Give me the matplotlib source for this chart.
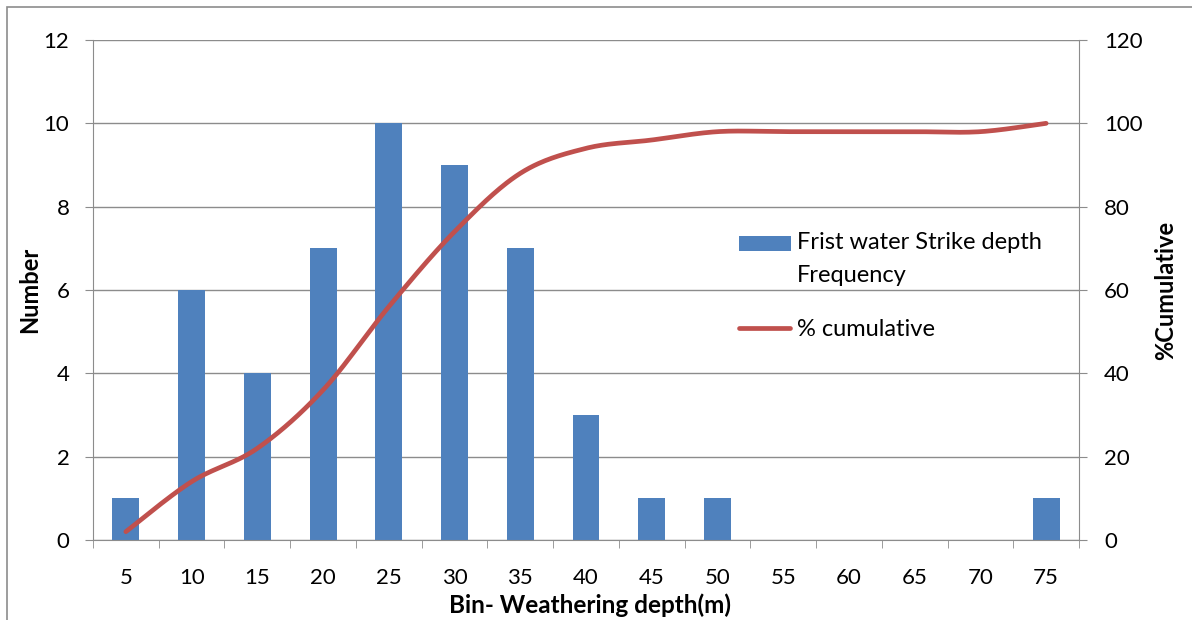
import numpy as np
import matplotlib
matplotlib.use("Agg")
import matplotlib.pyplot as plt
from matplotlib.patches import Rectangle
from matplotlib.lines import Line2D

bins = ["5", "10", "15", "20", "25", "30", "35", "40", "45", "50", "55", "60", "65", "70", "75"]
frequency = [1, 6, 4, 7, 10, 9, 7, 3, 1, 1, 0, 0, 0, 0, 1]
cumulative = [2, 14, 22, 36, 56, 74, 88, 94, 96, 98, 98, 98, 98, 98, 100]

BAR_C = "#4F81BD"
LINE_C = "#C0504D"
GRID_C = "#8C8C8C"
FONT = "Lato"

plt.rcParams["font.family"] = [FONT, "DejaVu Sans"]

W, H = 1192, 620
fig = plt.figure(figsize=(W/100, H/100), dpi=100)
ax = fig.add_axes([93/W, 80/H, (1079-93)/W, 500/H])
ax2 = ax.twinx()

x = np.arange(len(bins))
ax.bar(x, frequency, width=0.41, color=BAR_C, zorder=2)

# Excel-like smoothed line (Catmull-Rom Bezier)
def smooth(xs, ys, n=30):
    xs = np.asarray(xs, float); ys = np.asarray(ys, float)
    px = np.concatenate([[xs[0]], xs, [xs[-1]]])
    py = np.concatenate([[ys[0]], ys, [ys[-1]]])
    ox, oy = [], []
    t = np.linspace(0, 1, n)
    for i in range(1, len(px) - 2):
        p0 = np.array([px[i], py[i]]); p3 = np.array([px[i+1], py[i+1]])
        c1 = p0 + (np.array([px[i+1], py[i+1]]) - np.array([px[i-1], py[i-1]])) / 6
        c2 = p3 - (np.array([px[i+2], py[i+2]]) - np.array([px[i], py[i]])) / 6
        b = ((1-t)**3)[:, None]*p0 + (3*(1-t)**2*t)[:, None]*c1 + (3*(1-t)*t**2)[:, None]*c2 + (t**3)[:, None]*p3
        ox.extend(b[:, 0]); oy.extend(b[:, 1])
    return ox, oy

sx, sy = smooth(x, cumulative)
ax2.plot(sx, sy, color=LINE_C, lw=3.4, solid_capstyle="round", zorder=3)

ax.set_xlim(-0.5, len(bins) - 0.5)
ax.set_ylim(0, 12)
ax2.set_ylim(0, 120)
ax.set_yticks(np.arange(0, 13, 2))
ax2.set_yticks(np.arange(0, 121, 20))

ax.set_xticks(x)
ax.set_xticklabels(bins)
ax.set_xticks(np.arange(-0.5, len(bins), 1), minor=True)
ax.tick_params(axis="x", which="major", length=0, pad=20, labelsize=16)
ax.tick_params(axis="x", which="minor", length=6, color=GRID_C, direction="out")
ax.tick_params(axis="y", length=6, color=GRID_C, labelsize=16, pad=11, direction="out")
ax2.tick_params(axis="y", length=6, color=GRID_C, labelsize=16, pad=12, direction="out")

ax.yaxis.grid(True, color=GRID_C, lw=1)
ax.set_axisbelow(True)

for a in (ax, ax2):
    a.spines["top"].set_visible(False)
    for s in ("left", "right", "bottom"):
        a.spines[s].set_color(GRID_C)
ax.spines["right"].set_visible(False)
ax2.spines["left"].set_visible(False)
ax2.spines["bottom"].set_visible(False)

ax.set_ylabel("Number", fontsize=17, fontweight="bold")
ax2.set_ylabel("%Cumulative", fontsize=17, fontweight="bold")
ax.set_xlabel("Bin- Weathering depth(m)", fontsize=17.5, fontweight="bold")
ax.yaxis.label.set_va("center")
ax2.yaxis.label.set_va("center")
ax.xaxis.label.set_va("center")
ax.yaxis.set_label_coords((30-93)/986, 0.5)
ax2.yaxis.set_label_coords((1166-93)/986, 0.5)
ax.xaxis.set_label_coords((590-93)/986, (540-605)/500)

# Legend drawn in figure pixel coordinates
def fx(px): return px / W
def fy(py): return 1 - py / H
fig.add_artist(Rectangle((fx(739), fy(251)), (791-739)/W, 15/H, transform=fig.transFigure,
                         color=BAR_C, lw=0))
fig.add_artist(Line2D([fx(739), fx(790)], [fy(328), fy(328)], transform=fig.transFigure,
                      color=LINE_C, lw=3.4, solid_capstyle="round"))
fig.text(fx(797), fy(243), "Frist water Strike depth", fontsize=17, va="center", ha="left")
fig.text(fx(797), fy(275), "Frequency", fontsize=17, va="center", ha="left")
fig.text(fx(797), fy(329), "% cumulative", fontsize=17, va="center", ha="left")

fig.patches.append(Rectangle((7/W, -0.01), 1.0, 1 - 7/H + 0.01, transform=fig.transFigure,
                             fill=False, edgecolor=GRID_C, lw=1.2))

fig.savefig("out.png", dpi=100)
